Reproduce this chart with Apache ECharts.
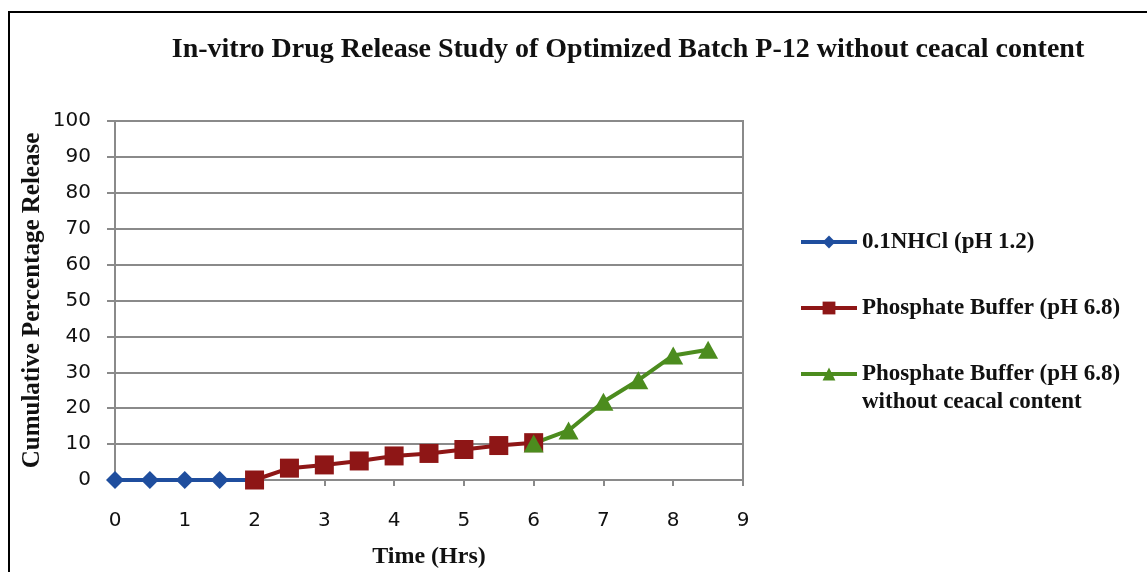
<!DOCTYPE html>
<html>
<head>
<meta charset="utf-8">
<script src="https://cdn.jsdelivr.net/npm/echarts@6/dist/echarts.min.js"></script>
<style>
  html, body { margin: 0; padding: 0; background: #fff; }
  #chart { width: 1147px; height: 572px; }
</style>
</head>
<body>
<div id="chart"></div>
<script>
const title = 'In-vitro Drug Release Study of Optimized Batch P-12 without ceacal content'
const serif = '"Liberation Serif", "Times New Roman", serif'
const sans = '"DejaVu Sans", sans-serif'
const textColor = '#111'
const gridColor = '#8a8a8a'

const hclTime = [0, 0.5, 1, 1.5, 2]
const hclValues = [0, 0, 0, 0, 0]
const bufferTime = [2, 2.5, 3, 3.5, 4, 4.5, 5, 5.5, 6]
const bufferValues = [0, 3.3, 4.2, 5.3, 6.7, 7.4, 8.5, 9.6, 10.4]
const caecalTime = [6, 6.5, 7, 7.5, 8, 8.5]
const caecalValues = [10.2, 13.8, 21.8, 27.8, 34.7, 36.3]

const seriesNames = [
  '0.1NHCl (pH 1.2)',
  'Phosphate Buffer (pH 6.8)',
  'Phosphate Buffer (pH 6.8) without ceacal content',
]
const colors = ['#1f4e9e', '#8e1616', '#4c8c1e']

function pairs(xs, ys) {
  return xs.map((x, i) => [x, ys[i]])
}

const chart = echarts.init(document.getElementById('chart'))

function legendAt(idx, top, formatter) {
  return {
    data: [seriesNames[idx]],
    left: 794,
    top: top,
    orient: 'vertical',
    itemWidth: 56,
    itemHeight: 16,
    formatter: formatter,
    lineStyle: { width: 4 },
    textStyle: {
      fontFamily: serif,
      fontWeight: 'bold',
      fontSize: 23,
      color: textColor,
      lineHeight: 28,
    },
  }
}

const option = {
  animation: false,
  title: {
    text: title,
    left: 623,
    textAlign: 'center',
    top: 31,
    textStyle: {
      fontFamily: serif,
      fontWeight: 'bold',
      fontSize: 28,
      color: textColor,
    },
  },
  legend: [
    legendAt(0, 223),
    legendAt(1, 289),
    legendAt(2, 327, name => '\nPhosphate Buffer (pH 6.8)\nwithout ceacal content'),
  ],
  grid: {
    left: 115,
    right: 404,
    top: 121,
    bottom: 92,
    show: true,
    borderColor: gridColor,
    borderWidth: 2,
    outerBoundsMode: 'none',
  },
  xAxis: {
    type: 'value',
    min: 0,
    max: 9,
    interval: 1,
    name: 'Time (Hrs)',
    nameLocation: 'middle',
    nameGap: 65,
    nameMoveOverlap: false,
    nameTextStyle: {
      fontFamily: serif,
      fontWeight: 'bold',
      fontSize: 24,
      color: textColor,
    },
    axisLine: { lineStyle: { color: gridColor, width: 2 } },
    axisTick: { show: true, inside: false, length: 6, lineStyle: { color: gridColor, width: 2 } },
    axisLabel: { margin: 31, fontFamily: sans, fontSize: 20, color: textColor },
    splitLine: { show: false },
  },
  yAxis: {
    type: 'value',
    min: 0,
    max: 100,
    interval: 10,
    name: 'Cumulative Percentage Release',
    nameLocation: 'middle',
    nameGap: 70,
    nameMoveOverlap: false,
    nameTextStyle: {
      fontFamily: serif,
      fontWeight: 'bold',
      fontSize: 25,
      color: textColor,
    },
    axisLine: { show: true, lineStyle: { color: gridColor, width: 2 } },
    axisTick: { show: true, length: 8, lineStyle: { color: gridColor, width: 2 } },
    axisLabel: { margin: 24, fontFamily: sans, fontSize: 20, color: textColor },
    splitLine: { lineStyle: { color: gridColor, width: 2 } },
  },
  graphic: [
    {
      type: 'rect',
      shape: { x: 9, y: 12, width: 1200, height: 620 },
      style: { fill: 'none', stroke: '#000', lineWidth: 2 },
      silent: true,
    },
  ],
  series: [
    {
      name: seriesNames[0],
      type: 'line',
      data: pairs(hclTime, hclValues),
      symbol: 'diamond',
      symbolSize: 18,
      itemStyle: { color: colors[0] },
      lineStyle: { color: colors[0], width: 4 },
    },
    {
      name: seriesNames[1],
      type: 'line',
      data: pairs(bufferTime, bufferValues),
      symbol: 'rect',
      symbolSize: 19,
      itemStyle: { color: colors[1] },
      lineStyle: { color: colors[1], width: 4 },
    },
    {
      name: seriesNames[2],
      type: 'line',
      data: pairs(caecalTime, caecalValues),
      symbol: 'triangle',
      symbolSize: [20, 18],
      itemStyle: { color: colors[2] },
      lineStyle: { color: colors[2], width: 4 },
    },
  ],
}

chart.setOption(option)
</script>
</body>
</html>
